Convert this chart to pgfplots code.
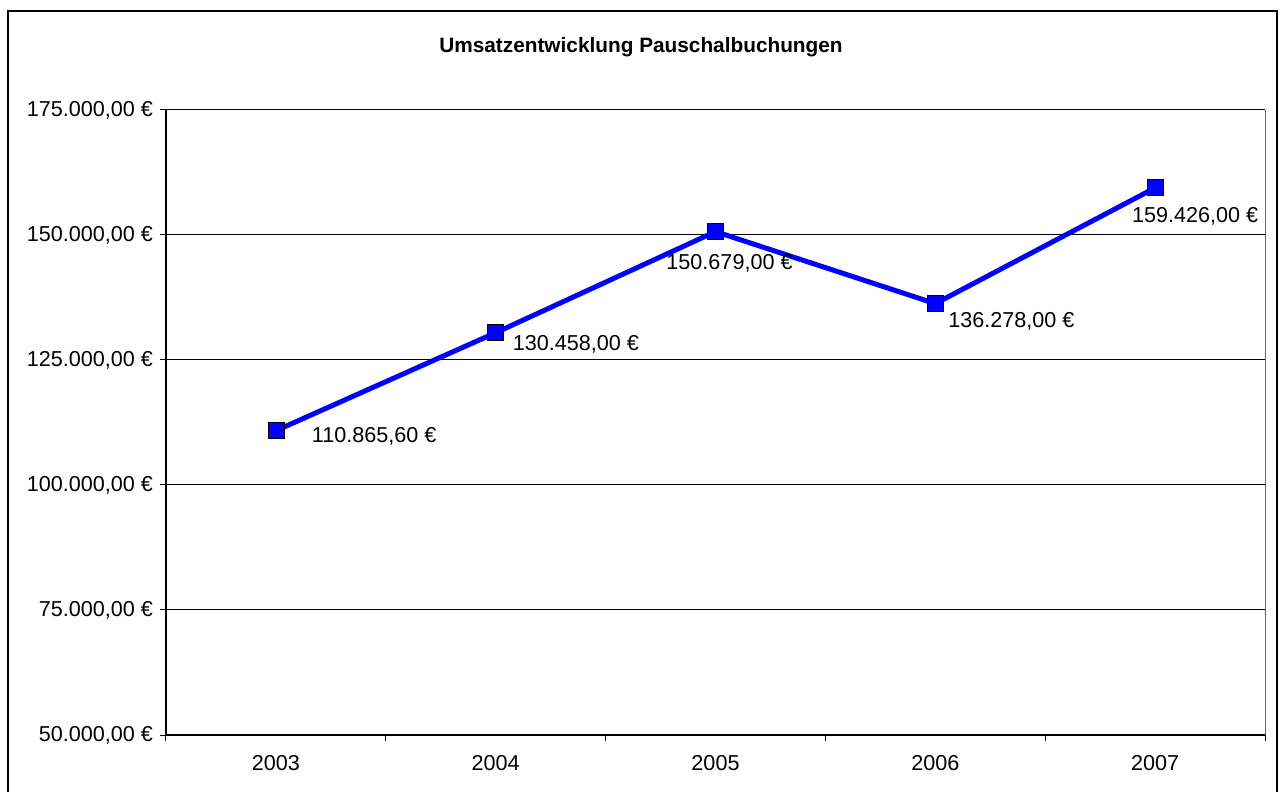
\documentclass[border=0pt]{standalone}
\usepackage{pgfplots}
\pgfplotsset{compat=1.18}
\usepackage{fontspec}
\setmainfont{Liberation Sans}
\definecolor{lineblue}{RGB}{0,0,255}

\begin{document}
\begin{tikzpicture}[font=\fontsize{10.8pt}{13pt}\selectfont]
  \begin{axis}[
    scale only axis,
    width=549.5pt, height=312.5pt,
    xmin=-0.5, xmax=4.5, ymin=50000, ymax=175000,
    scaled y ticks=false,
    axis x line*=bottom, axis y line*=left,
    axis line style={black, line width=0.6pt},
    xtick={0,1,2,3,4},
    xticklabels={2003,2004,2005,2006,2007},
    major x tick style={draw=none},
    minor xtick={-0.5,0.5,1.5,2.5,3.5,4.5},
    minor x tick style={black, line width=0.5pt},
    xticklabel style={yshift=-3.5pt},
    ytick={50000,75000,100000,125000,150000,175000},
    yticklabels={50.000{,}00 €,75.000{,}00 €,100.000{,}00 €,125.000{,}00 €,150.000{,}00 €,175.000{,}00 €},
    ymajorgrids, grid style={black, line width=0.5pt},
    tick align=outside, major tick length=3pt, minor tick length=3pt,
    y tick style={black, line width=0.5pt},
    clip=false,
  ]
    \addplot[lineblue, line width=2.5pt, mark=square*,
      mark size=4pt, mark options={fill=lineblue, draw=black, line width=0.4pt}]
      coordinates {(0,110865.6) (1,130458) (2,150679) (3,136278) (4,159426)};

    % data labels
    \node[anchor=west] at ([shift={(14.5pt,-3pt)}]axis cs:0,110865.6) {110.865,60 €};
    \node[anchor=west] at ([shift={(5pt,-6pt)}]axis cs:1,130458) {130.458,00 €};
    \node at ([shift={(7pt,-16pt)}]axis cs:2,150679) {150.679,00 €};
    \node[anchor=west] at ([shift={(3pt,-9pt)}]axis cs:3,136278) {136.278,00 €};
    \node at ([shift={(20pt,-14pt)}]axis cs:4,159426) {159.426,00 €};

    \coordinate (sw) at (rel axis cs:0,0);
    \coordinate (ne) at (rel axis cs:1,1);
  \end{axis}
  % right border of plot area
  \draw[gray!80!black, line width=0.5pt] (ne) -- (ne |- sw);
  \coordinate (bbsw) at ([shift={(-83pt,-28pt)}]sw);
  \coordinate (bbne) at ([shift={(8.5pt,55pt)}]ne);
  \coordinate (ttl) at ([shift={(237.5pt,31.5pt)}]sw |- ne);
  \pgfresetboundingbox
  \path[use as bounding box] (bbsw) rectangle (bbne);
  \node[font=\fontsize{10.4pt}{12pt}\selectfont\bfseries] at (ttl) {Umsatzentwicklung Pauschalbuchungen};
  \draw[black, line width=0.8pt] ([shift={(-79pt,-40pt)}]sw) rectangle ([shift={(6pt,49.5pt)}]ne);
\end{tikzpicture}
\end{document}
